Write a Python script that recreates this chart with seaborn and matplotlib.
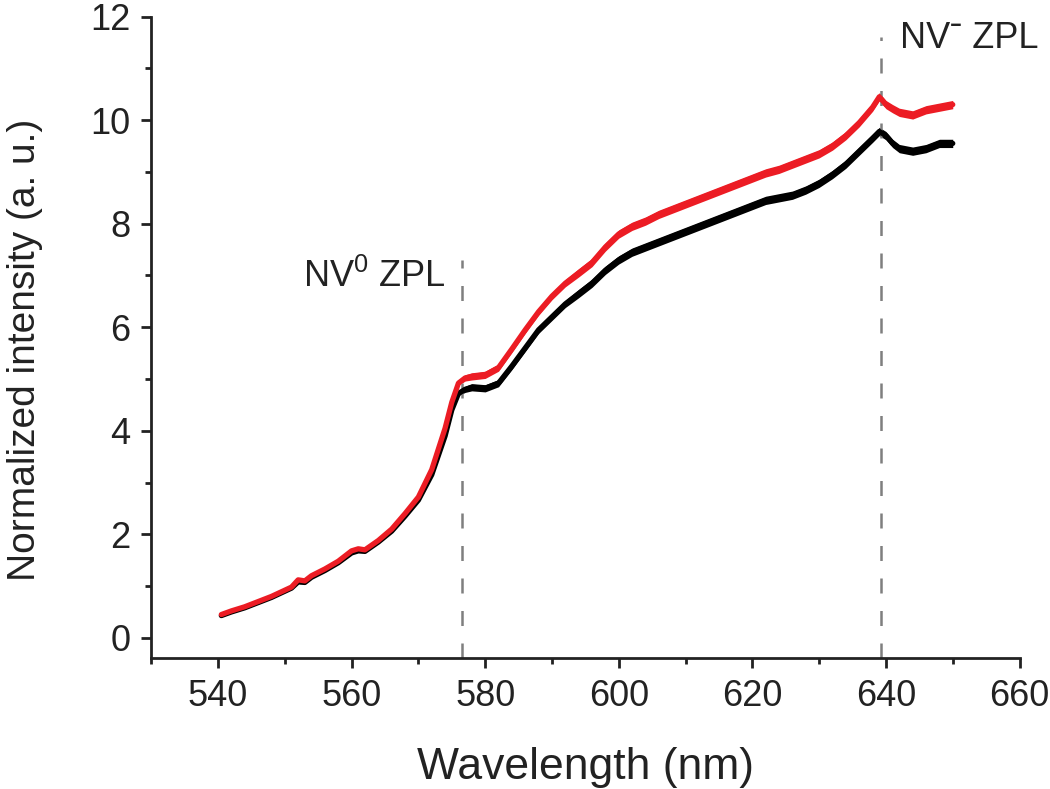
#!/usr/bin/env python3
"""Normalized PL spectra with NV0 / NV- zero-phonon line markers."""

import numpy as np
import pandas as pd
import matplotlib
matplotlib.use("Agg")
import matplotlib.pyplot as plt
from matplotlib.ticker import MultipleLocator
import seaborn as sns

# ---- data ------------------------------------------------------------------
wavelength = [540.5, 542, 544, 546, 548, 550, 551, 552, 553, 554, 556, 558,
              560, 561, 562, 564, 566, 568, 570, 572, 574, 575, 576, 577,
              578, 580, 582, 584, 586, 588, 590, 592, 594, 596, 598, 600,
              602, 604, 606, 608, 610, 612, 614, 616, 618, 620, 622, 624,
              626, 628, 630, 632, 634, 636, 638, 639, 640, 641, 642, 644,
              646, 648, 650]

red = [0.45, 0.52, 0.60, 0.70, 0.80, 0.92, 0.98, 1.12, 1.10, 1.20, 1.33, 1.48,
       1.68, 1.72, 1.70, 1.88, 2.10, 2.40, 2.72, 3.25, 4.05, 4.55, 4.92, 5.02,
       5.05, 5.08, 5.22, 5.58, 5.95, 6.30, 6.60, 6.85, 7.05, 7.25, 7.55, 7.80,
       7.95, 8.05, 8.18, 8.28, 8.38, 8.48, 8.58, 8.68, 8.78, 8.88, 8.98, 9.05,
       9.15, 9.25, 9.35, 9.50, 9.70, 9.95, 10.25, 10.45, 10.30, 10.22, 10.15, 10.10,
       10.20, 10.25, 10.30]

black = [0.43, 0.50, 0.58, 0.68, 0.78, 0.90, 0.96, 1.08, 1.07, 1.17, 1.30, 1.45,
         1.64, 1.68, 1.67, 1.85, 2.06, 2.35, 2.66, 3.15, 3.90, 4.40, 4.72, 4.80,
         4.84, 4.82, 4.92, 5.25, 5.60, 5.95, 6.20, 6.45, 6.65, 6.85, 7.10, 7.30,
         7.45, 7.55, 7.65, 7.75, 7.85, 7.95, 8.05, 8.15, 8.25, 8.35, 8.45, 8.50,
         8.55, 8.65, 8.78, 8.95, 9.15, 9.40, 9.65, 9.78, 9.70, 9.55, 9.45, 9.40,
         9.45, 9.55, 9.55]

# half-width of the noise band seen on the traces (a. u.)
noise = [0.00, 0.00, 0.00, 0.00, 0.00, 0.00, 0.00, 0.00, 0.00, 0.00, 0.00, 0.00,
         0.00, 0.00, 0.00, 0.00, 0.00, 0.00, 0.00, 0.00, 0.00, 0.02, 0.04, 0.06,
         0.07, 0.07, 0.07, 0.07, 0.07, 0.07, 0.07, 0.07, 0.08, 0.08, 0.08, 0.08,
         0.08, 0.08, 0.08, 0.08, 0.08, 0.08, 0.08, 0.08, 0.08, 0.08, 0.08, 0.08,
         0.08, 0.08, 0.08, 0.08, 0.08, 0.08, 0.08, 0.08, 0.08, 0.08, 0.08, 0.08,
         0.08, 0.08, 0.08]

# zero-phonon line markers
zpl_pos = [576.5, 639.2]
zpl_top = [7.3, 11.6]
zpl_labels = ["NV$^\\mathregular{0}$ ZPL", "NV\u02c9 ZPL"]
zpl_label_x = [552.7, 642.1]
zpl_label_y = [6.78, 11.4]

# ---- style ----------------------------------------------------------------
sns.set_theme(style="ticks")
plt.rcParams['font.family'] = ['Liberation Sans', 'DejaVu Sans']
plt.rcParams['axes.linewidth'] = 2.0
plt.rcParams['xtick.major.width'] = 2.0
plt.rcParams['ytick.major.width'] = 2.0
plt.rcParams['xtick.minor.width'] = 2.0
plt.rcParams['ytick.minor.width'] = 2.0
plt.rcParams['xtick.major.size'] = 7
plt.rcParams['ytick.major.size'] = 7
plt.rcParams['xtick.minor.size'] = 4
plt.rcParams['ytick.minor.size'] = 4
plt.rcParams['xtick.color'] = '#222222'
plt.rcParams['ytick.color'] = '#222222'

df = pd.DataFrame({'wl': wavelength, 'black': black, 'red': red, 'noise': noise})

fig = plt.figure(figsize=(10.5, 7.89), dpi=100)
ax = fig.add_axes([0.144, 0.166, 0.827, 0.813])

red_c = '#ec1c24'
# spectra with their noise band (red drawn on top)
ax.fill_between(df['wl'], df['black'] - df['noise'], df['black'] + df['noise'],
                color='black', lw=0)
sns.lineplot(data=df, x='wl', y='black', color='black', lw=3.8, ax=ax)
ax.fill_between(df['wl'], df['red'] - df['noise'], df['red'] + df['noise'],
                color=red_c, lw=0)
sns.lineplot(data=df, x='wl', y='red', color=red_c, lw=3.8, ax=ax)

ymin = -0.39
# dashed ZPL markers
for xpos, top in zip(zpl_pos, zpl_top):
    ln, = ax.plot([xpos, xpos], [ymin, top], color='#7f7f7f', lw=1.8, zorder=1)
    ln.set_dashes((6, 7))

for lbl, lx, ly in zip(zpl_labels, zpl_label_x, zpl_label_y):
    ax.text(lx, ly, lbl, fontsize=26, color='#222222', ha='left', va='baseline')

ax.set_xlim(530, 660)
ax.set_ylim(ymin, 12)
ax.xaxis.set_major_locator(MultipleLocator(20))
ax.xaxis.set_minor_locator(MultipleLocator(10))
ax.yaxis.set_major_locator(MultipleLocator(2))
ax.yaxis.set_minor_locator(MultipleLocator(1))
ax.tick_params(axis='both', which='major', labelsize=26, pad=8)

ax.set_xlabel('Wavelength (nm)', fontsize=32, color='#222222', va='center')
ax.set_ylabel('Normalized intensity (a. u.)', fontsize=28, color='#222222', va='center')
ax.xaxis.set_label_coords(0.5, -0.171)
ax.yaxis.set_label_coords(-0.145, 0.48)

sns.despine(ax=ax)
for s in ('left', 'bottom'):
    ax.spines[s].set_color('#222222')

fig.savefig('out.png', dpi=100)
